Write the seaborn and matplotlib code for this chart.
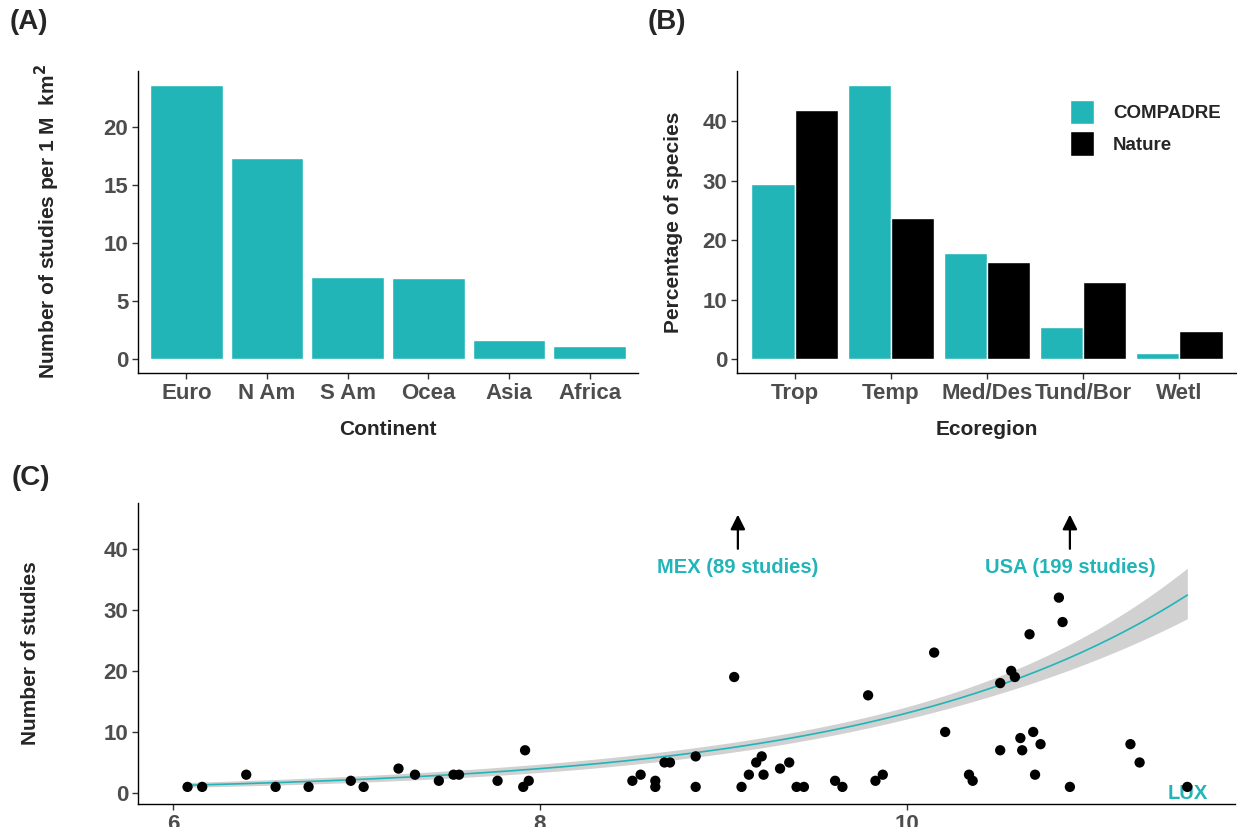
import numpy as np
import pandas as pd
import matplotlib
matplotlib.use("Agg")
import matplotlib.pyplot as plt
import seaborn as sns

# ---- data ----
continents = ["Euro", "N Am", "S Am", "Ocea", "Asia", "Africa"]
studies_per_area = [23.6, 17.3, 7.1, 6.95, 1.65, 1.1]

ecoregions = ["Trop", "Temp", "Med/Des", "Tund/Bor", "Wetl"]
pct_compadre = [29.4, 46.1, 17.8, 5.4, 1.1]
pct_nature = [41.8, 23.7, 16.4, 13.0, 4.7]

log_gdp = [6.08, 6.16, 6.40, 6.56, 6.74, 6.97, 7.04, 7.23, 7.32, 7.45, 7.53, 7.56,
           7.77, 7.91, 7.92, 7.94, 8.505, 8.55, 8.63, 8.63, 8.68, 8.71, 8.85, 8.85,
           9.06, 9.10, 9.14, 9.18, 9.21, 9.22, 9.31, 9.36, 9.40, 9.44, 9.61, 9.65,
           9.79, 9.83, 9.87, 10.15, 10.21, 10.34, 10.36, 10.51, 10.51, 10.57, 10.59,
           10.62, 10.63, 10.67, 10.69, 10.70, 10.73, 10.83, 10.85, 10.89, 11.22,
           11.27, 11.53]
n_studies = [1, 1, 3, 1, 1, 2, 1, 4, 3, 2, 3, 3,
             2, 1, 7, 2, 2, 3, 2, 1, 5, 5, 6, 1,
             19, 1, 3, 5, 6, 3, 4, 5, 1, 1, 2, 1,
             16, 2, 3, 23, 10, 3, 2, 7, 18, 20, 19,
             9, 7, 26, 10, 3, 8, 32, 28, 1, 8,
             5, 1]

# off-scale countries (shown as arrows, still part of the fit)
outlier_labels = ["MEX (89 studies)", "USA (199 studies)"]
outlier_x = [9.08, 10.89]
outlier_n = [89, 199]
lux_label = "LUX"
lux_x = 11.53

teal = "#22B5B8"
tick_grey = "#4D4D4D"

sns.set_style("white")
plt.rcParams["font.family"] = ["Liberation Sans", "DejaVu Sans"]
plt.rcParams["font.weight"] = "bold"

W, H = 1237, 827
fig = plt.figure(figsize=(W / 100, H / 100), dpi=100)


def px_axes(left, top, right, bottom):
    return fig.add_axes([left / W, 1 - bottom / H, (right - left) / W, (bottom - top) / H])


def style(ax):
    sns.despine(ax=ax)
    for s in ["left", "bottom"]:
        ax.spines[s].set_color("black")
        ax.spines[s].set_linewidth(1.0)
    ax.tick_params(axis="both", length=4, width=1, color="#333333", labelsize=16,
                   labelcolor=tick_grey, pad=3, left=True, bottom=True)
    for lab in ax.get_xticklabels() + ax.get_yticklabels():
        lab.set_fontweight("bold")


# ---- (A) ----
axA = px_axes(138, 71, 638, 373)
dfA = pd.DataFrame({"Continent": continents, "Studies": studies_per_area})
sns.barplot(data=dfA, x="Continent", y="Studies", color=teal, width=0.9,
            saturation=1, ax=axA)
axA.set_ylim(-1.18, 24.78)
axA.set_xlim(-0.6, len(continents) - 0.4)
axA.set_yticks([0, 5, 10, 15, 20])
axA.set_xlabel("Continent", fontsize=15, fontweight="bold", labelpad=12)
axA.set_ylabel("Number of studies per 1 M  km$^{\\mathbf{2}}$", fontsize=15,
               fontweight="bold", labelpad=30)
style(axA)

# ---- (B) ----
axB = px_axes(737, 71, 1237, 373)
dfB = pd.DataFrame({
    "Ecoregion": ecoregions * 2,
    "Percent": pct_compadre + pct_nature,
    "Source": ["COMPADRE"] * len(ecoregions) + ["Nature"] * len(ecoregions),
})
sns.barplot(data=dfB, x="Ecoregion", y="Percent", hue="Source",
            palette={"COMPADRE": teal, "Nature": "black"}, width=0.9,
            saturation=1, ax=axB)
axB.set_ylim(-2.3, 48.4)
axB.set_xlim(-0.6, len(ecoregions) - 0.4)
axB.set_yticks([0, 10, 20, 30, 40])
axB.set_xlabel("Ecoregion", fontsize=15, fontweight="bold", labelpad=12)
axB.set_ylabel("Percentage of species", fontsize=15, fontweight="bold", labelpad=14)
handles, labels = axB.get_legend_handles_labels()
axB.legend(handles, labels, loc="upper left", bbox_to_anchor=(1053 / W, 1 - 83 / H),
           bbox_transform=fig.transFigure, frameon=False, fontsize=13.5,
           handlelength=1.3, handleheight=1.6, handletextpad=1.0, labelspacing=0.4)
style(axB)

# ---- (C) ----
axC = px_axes(138, 503, 1235, 804)
dfC = pd.DataFrame({"log_gdp": log_gdp, "n": n_studies})

# poisson glm fit (log link) by IRLS on all countries, with 95% band
x = np.asarray(log_gdp + outlier_x, float)
y = np.asarray(n_studies + outlier_n, float)
X = np.column_stack([np.ones_like(x), x])
beta = np.array([np.log(y.mean()), 0.0])
for _ in range(100):
    eta = X @ beta
    mu = np.exp(eta)
    z = eta + (y - mu) / mu
    XtW = X.T * mu
    beta = np.linalg.solve(XtW @ X, XtW @ z)
cov = np.linalg.inv((X.T * np.exp(X @ beta)) @ X)
grid = np.linspace(x.min(), x.max(), 200)
G = np.column_stack([np.ones_like(grid), grid])
eta_g = G @ beta
se_g = np.sqrt(np.sum((G @ cov) * G, axis=1))
fit = pd.DataFrame({"log_gdp": grid, "fit": np.exp(eta_g),
                    "lo": np.exp(eta_g - 1.96 * se_g), "hi": np.exp(eta_g + 1.96 * se_g)})

axC.fill_between(fit["log_gdp"], fit["lo"], fit["hi"], color="#999999", alpha=0.45,
                 linewidth=0, zorder=1)
sns.lineplot(data=fit, x="log_gdp", y="fit", color=teal, linewidth=1.2, ax=axC, zorder=2)
sns.scatterplot(data=dfC, x="log_gdp", y="n", color="black", s=55, edgecolor="none",
                ax=axC, zorder=3)

for lab, xo in zip(outlier_labels, outlier_x):
    axC.annotate("", xy=(xo, 45.6), xytext=(xo, 40.0),
                 arrowprops=dict(arrowstyle="-|>", color="black", lw=1.6,
                                 mutation_scale=22, shrinkA=0, shrinkB=0))
    axC.text(xo, 36.9, lab, ha="center", va="center", color=teal, fontsize=14.5,
             fontweight="bold")
axC.text(lux_x, 0.0, lux_label, ha="center", va="center", color=teal, fontsize=14.5,
         fontweight="bold", zorder=2)

axC.set_xlim(5.81, 11.79)
axC.set_ylim(-1.8, 47.5)
axC.set_xticks([6, 8, 10])
axC.set_yticks([0, 10, 20, 30, 40])
axC.set_xlabel("")
axC.set_ylabel("Number of studies", fontsize=15, fontweight="bold", labelpad=46)
style(axC)

# panel tags
fig.text(10 / W, 1 - 22 / H, "(A)", fontsize=20, fontweight="bold", va="center", ha="left")
fig.text(648 / W, 1 - 22 / H, "(B)", fontsize=20, fontweight="bold", va="center", ha="left")
fig.text(12 / W, 1 - 478 / H, "(C)", fontsize=20, fontweight="bold", va="center", ha="left")

fig.savefig("out.png", dpi=100)
